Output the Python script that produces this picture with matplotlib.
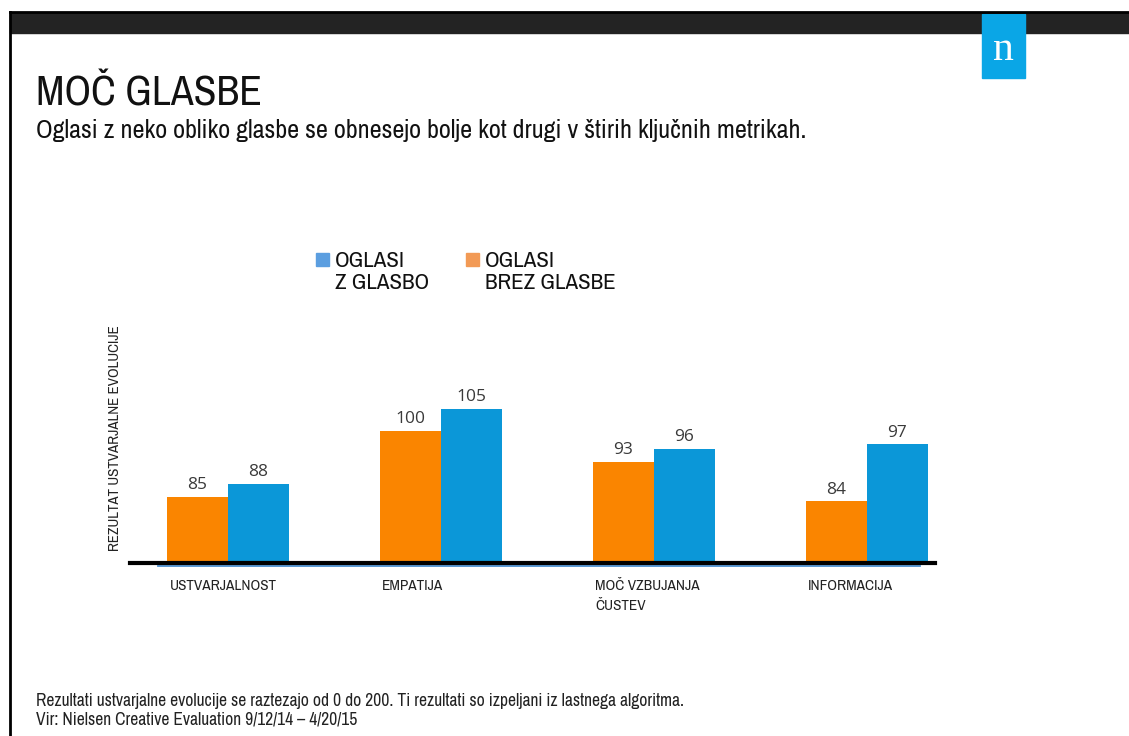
import matplotlib.pyplot as plt
from matplotlib.patches import Rectangle
from matplotlib import font_manager
import numpy as np

# Data
categories = ['USTVARJALNOST', 'EMPATIJA', 'MOČ VZBUJANJA\nČUSTEV', 'INFORMACIJA']
brez_glasbe = [85, 100, 93, 84]
z_glasbo = [88, 105, 96, 97]
legend_labels = ['OGLASI\nZ GLASBO', 'OGLASI\nBREZ GLASBE']

ORANGE = '#fa8500'
BLUE = '#0b97d8'
W, H = 1129, 736

# prefer a condensed face if one is installed
names = sorted({f.name for f in font_manager.fontManager.ttflist})
narrow = [n for n in names if 'Narrow' in n or 'Condensed' in n]
FONT = narrow[:1] + ['DejaVu Sans']
plt.rcParams['font.family'] = FONT
plt.rcParams['font.stretch'] = 'condensed'

fig = plt.figure(figsize=(W / 100, H / 100), dpi=100)

def fx(px):
    return px / W

def fy(py):
    return 1 - py / H

# Frame and top band
fig.patches.append(Rectangle((fx(10), fy(33)), fx(W - 10), fy(13) - fy(33),
                             transform=fig.transFigure, color='#232323', zorder=0))
fig.add_artist(plt.Line2D([fx(10), 1], [fy(12), fy(12)], color='black', lw=2,
                          transform=fig.transFigure))
fig.add_artist(plt.Line2D([fx(10), fx(10)], [fy(12), 0], color='black', lw=2,
                          transform=fig.transFigure))

# Logo
fig.patches.append(Rectangle((fx(982), fy(78)), fx(43), fy(14) - fy(78),
                             transform=fig.transFigure, color='#0aa6e6', zorder=1))
fig.text(fx(1003.5), fy(50), 'n', color='white', fontsize=30, family='Liberation Serif',
         ha='center', va='center', zorder=2)

# Titles
fig.text(fx(36), fy(106), 'MOČ GLASBE', fontsize=30, ha='left', va='baseline', color='#111111')
fig.text(fx(36), fy(138), 'Oglasi z neko obliko glasbe se obnesejo bolje kot drugi v štirih ključnih metrikah.',
         fontsize=18.8, ha='left', va='baseline', color='#111111')

# Legend
fig.patches.append(Rectangle((fx(316), fy(266)), fx(13), fy(253) - fy(266),
                             transform=fig.transFigure, color='#5b9ee0'))
fig.text(fx(335), fy(251), legend_labels[0], fontsize=16.5, ha='left', va='top',
         linespacing=1.1, color='#111111')
fig.patches.append(Rectangle((fx(466), fy(266)), fx(13), fy(253) - fy(266),
                             transform=fig.transFigure, color='#f29a55'))
fig.text(fx(485), fy(251), legend_labels[1], fontsize=16.5, ha='left', va='top',
         linespacing=1.1, color='#111111')

# Chart
ax = fig.add_axes([fx(130), fy(563), fx(935) - fx(130), fy(387) - fy(563)])
x = np.arange(len(categories))
bw = 0.285
b1 = ax.bar(x - bw / 2, brez_glasbe, bw, color=ORANGE, zorder=2)
b2 = ax.bar(x + bw / 2, z_glasbo, bw, color=BLUE, zorder=2)
for bars in (b1, b2):
    for bar in bars:
        ax.text(bar.get_x() + bar.get_width() / 2, bar.get_height() + 0.8,
                f'{bar.get_height():.0f}', ha='center', va='bottom', fontsize=12.5,
                family='Open Sans', stretch='normal', color='#3a3a3a')

ax.set_xlim(-0.46, 3.32)
ax.set_ylim(70, 110)
for s in ['top', 'right', 'left']:
    ax.spines[s].set_visible(False)
ax.spines['bottom'].set_linewidth(3)
ax.spines['bottom'].set_color('black')
ax.spines['bottom'].set_zorder(3)
ax.set_yticks([])
ax.set_xticks([])
# thin blue shadow line hugging the baseline
ax.plot([-0.33, 3.25], [69.35, 69.35], color='#4a8fd0', lw=1.3, clip_on=False, zorder=1)

for xi, lab in zip(x, categories):
    ax.text(xi - bw + 0.01, 66.3, lab, ha='left', va='top', fontsize=11,
            linespacing=1.5, color='#222222')

fig.text(fx(115), fy(438), 'REZULTAT USTVARJALNE EVOLUCIJE', rotation=90, fontsize=10.8,
         ha='center', va='center', color='#222222')

# Footer
fig.text(fx(36), fy(706), 'Rezultati ustvarjalne evolucije se raztezajo od 0 do 200. Ti rezultati so izpeljani iz lastnega algoritma.',
         fontsize=12.6, ha='left', va='baseline', color='#222222')
fig.text(fx(36), fy(724), 'Vir: Nielsen Creative Evaluation 9/12/14 – 4/20/15',
         fontsize=12.6, ha='left', va='baseline', color='#222222')

fig.savefig('out.png', dpi=100)
